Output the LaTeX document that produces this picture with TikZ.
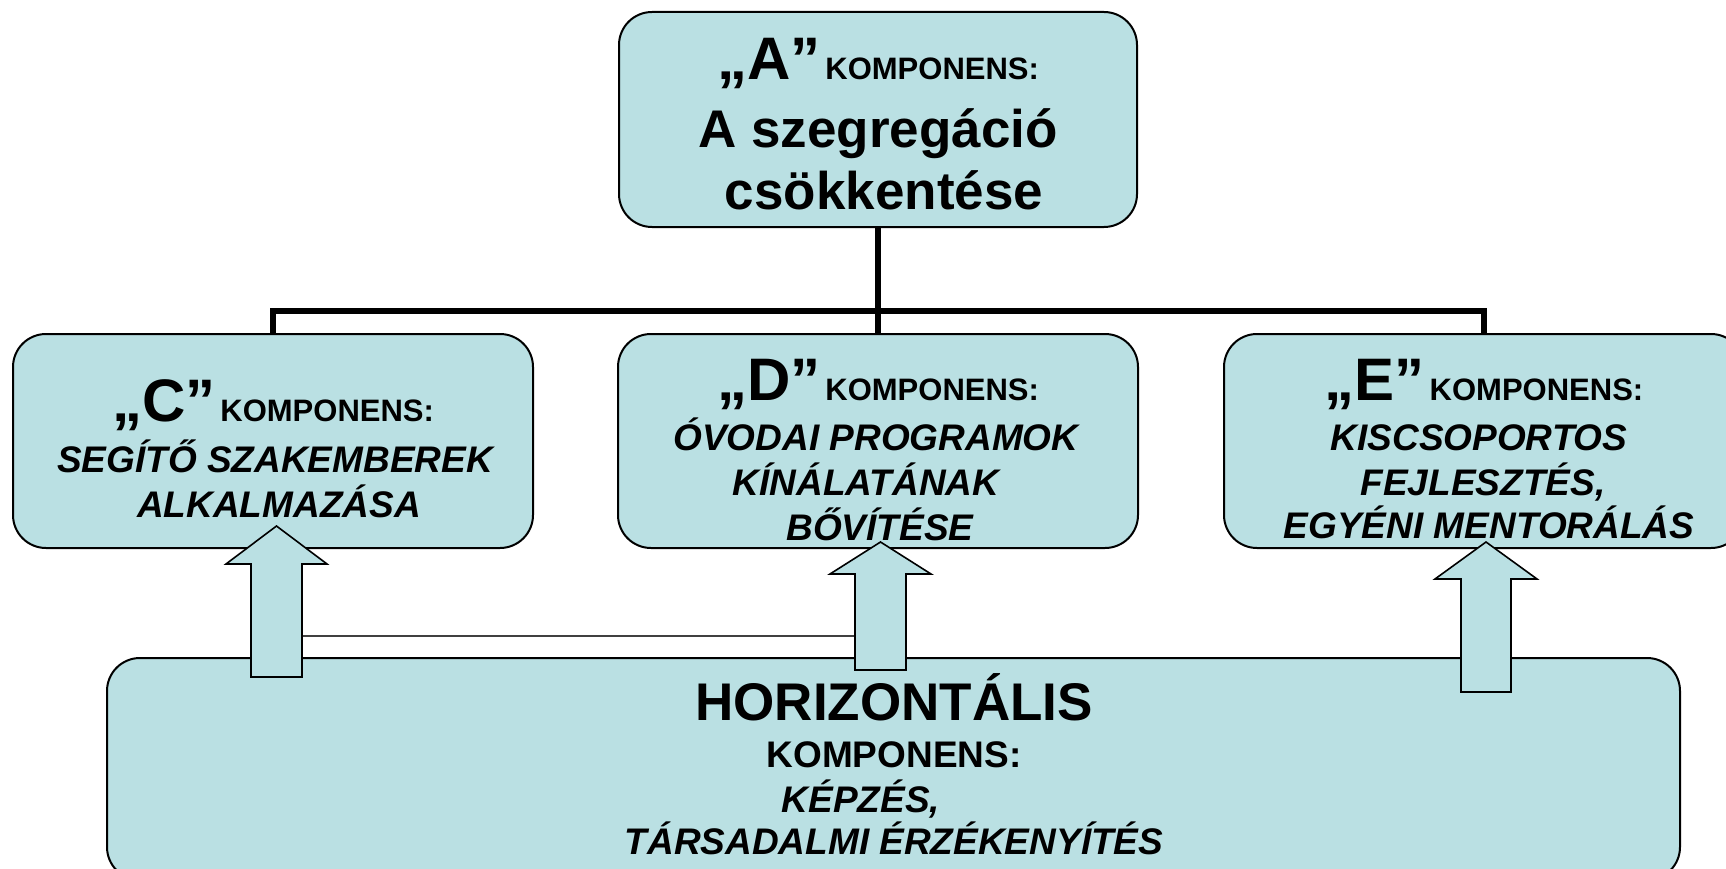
\documentclass[tikz,border=0pt]{standalone}
\usepackage{fontspec}
\setmainfont{Liberation Sans}
\definecolor{boxfill}{RGB}{186,224,227}
\newcommand\bigq[1]{{\fontsize{60}{60}\selectfont „#1”}}
\newcommand\kompsmall{{\fontsize{31}{31}\selectfont\hspace{5pt}KOMPONENS:}}
\begin{document}
\begin{tikzpicture}[x=1pt,y=-1pt,
  box/.style={draw=black, line width=2pt, fill=boxfill, rounded corners=33pt,
    minimum width=520pt, minimum height=214pt, inner sep=0pt},
  conn/.style={line width=5.5pt, line join=miter},
  blockarrow/.style={draw=black, line width=1.6pt, fill=boxfill, line join=miter},
  thinline/.style={line width=1.2pt, black!75},
  txt/.style={anchor=base, inner sep=0pt, font=\bfseries},
  big/.style={txt, font=\bfseries\fontsize{53}{53}\selectfont},
  ital/.style={txt, font=\bfseries\itshape\fontsize{37}{37}\selectfont},
  mid/.style={txt, font=\bfseries\fontsize{37}{37}\selectfont}]
\useasboundingbox (0,0) rectangle (1726,869);
\clip (0,0) rectangle (1726,869);

% boxes
\node[box, minimum width=518pt, minimum height=215pt] (A) at (878,119.5) {};
\node[box] (C) at (273,441) {};
\node[box] (D) at (878,441) {};
\node[box] (E) at (1484,441) {};
\node[box, minimum width=1573pt, minimum height=222pt] (H) at (893.5,769) {};

% tree connectors
\coordinate (bar) at (878,311);
\draw[conn] (A.south) -- (D.north);
\draw[conn] (C.north) |- (bar) -| (E.north);

% thin line between arrows
\coordinate (tl1) at (302,636);
\coordinate (tl2) at (855,636);
\draw[thinline] (tl1) -- (tl2);

% block arrows
\draw[blockarrow] (276.5,526) -- (327,564) -- (302,564) -- (302,677) -- (251,677) -- (251,564) -- (226,564) -- cycle;
\draw[blockarrow] (880.5,542) -- (931,574) -- (906,574) -- (906,670) -- (855,670) -- (855,574) -- (830,574) -- cycle;
\draw[blockarrow] (1486,542) -- (1537,579) -- (1511,579) -- (1511,692) -- (1461,692) -- (1461,579) -- (1435,579) -- cycle;

% texts A
\node[txt] (a1) at (878,80) {\bigq{A}\kompsmall};
\node[big] (a2) at (878,148) {A szegregáció};
\node[big] (a3) at (884,210) {csökkentése};
% texts C
\node[txt] (c1) at (273,421) {\bigq{C}\kompsmall};
\node[ital] (c2) at (275,472) {SEGÍTŐ SZAKEMBEREK};
\node[ital] (c3) at (279,517) {ALKALMAZÁSA};
% texts D
\node[txt] (d1) at (878,400) {\bigq{D}\kompsmall};
\node[ital] (d2) at (876,450) {ÓVODAI PROGRAMOK};
\node[ital] (d3) at (866,495) {KÍNÁLATÁNAK};
\node[ital] (d4) at (880,540) {BŐVÍTÉSE};
% texts E
\node[txt] (e1) at (1484,400) {\bigq{E}\kompsmall};
\node[ital] (e2) at (1479,450) {KISCSOPORTOS};
\node[ital] (e3) at (1483,495) {FEJLESZTÉS,};
\node[ital] (e4) at (1489,538) {EGYÉNI MENTORÁLÁS};
% texts H
\node[big] (h1) at (894,720) {HORIZONTÁLIS};
\node[mid] (h2) at (894,767) {KOMPONENS:};
\node[ital] (h3) at (861,812) {KÉPZÉS,};
\node[ital] (h4) at (894,854) {TÁRSADALMI ÉRZÉKENYÍTÉS};
\end{tikzpicture}
\end{document}
